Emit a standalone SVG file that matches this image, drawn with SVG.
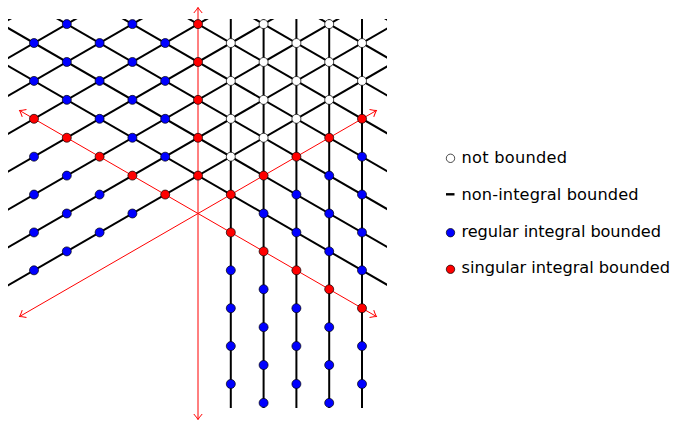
<svg xmlns="http://www.w3.org/2000/svg" width="674" height="421" viewBox="0 0 674 421">
<style>
.lat line{stroke:#000;stroke-width:2;stroke-linecap:butt}
.ax line{stroke:#f00;stroke-width:1;marker-end:url(#ah)}
circle{stroke:#000;stroke-width:0.7}
.w{fill:#fff}.b{fill:#00f}.r{fill:#f00}
.nd circle{r:4.5}
.lg circle{r:4.2}
text{font-family:"DejaVu Sans","Liberation Sans",sans-serif;font-size:16.2px;fill:#000}
</style>
<defs>
<clipPath id="clip"><rect x="8" y="19" width="379" height="389"/></clipPath>
<marker id="ah" viewBox="-8 -6 10 12" markerWidth="10" markerHeight="12" refX="0" refY="0" orient="auto" markerUnits="userSpaceOnUse"><path d="M-5.5,-4.2 Q-2,-1.2 0,0 Q-2,1.2 -5.5,4.2" fill="none" stroke="#f00" stroke-width="1"/></marker>
</defs>
<rect width="674" height="421" fill="#fff"/>
<g id="connectors">
<g class="lat" clip-path="url(#clip)">
<line x1="230.8" y1="0" x2="230.8" y2="421"/>
<line x1="263.6" y1="0" x2="263.6" y2="421"/>
<line x1="296.4" y1="0" x2="296.4" y2="421"/>
<line x1="329.2" y1="0" x2="329.2" y2="421"/>
<line x1="362" y1="0" x2="362" y2="421"/>
<line x1="-31.6" y1="308.2" x2="427.6" y2="43.04"/>
<line x1="-31.6" y1="270.32" x2="427.6" y2="5.16"/>
<line x1="-31.6" y1="232.44" x2="427.6" y2="-32.72"/>
<line x1="-31.6" y1="194.56" x2="427.6" y2="-70.6"/>
<line x1="-31.6" y1="156.68" x2="427.6" y2="-108.48"/>
<line x1="-31.6" y1="118.8" x2="427.6" y2="-146.36"/>
<line x1="-31.6" y1="80.92" x2="427.6" y2="-184.24"/>
<line x1="-31.6" y1="43.04" x2="427.6" y2="-222.12"/>
<line x1="-31.6" y1="43.04" x2="427.6" y2="308.2"/>
<line x1="-31.6" y1="5.16" x2="427.6" y2="270.32"/>
<line x1="-31.6" y1="-32.72" x2="427.6" y2="232.44"/>
<line x1="-31.6" y1="-70.6" x2="427.6" y2="194.56"/>
<line x1="-31.6" y1="-108.48" x2="427.6" y2="156.68"/>
<line x1="-31.6" y1="-146.36" x2="427.6" y2="118.8"/>
<line x1="-31.6" y1="-184.24" x2="427.6" y2="80.92"/>
<line x1="-31.6" y1="-222.12" x2="427.6" y2="43.04"/>
</g>
<g class="ax">
<line x1="198" y1="213.5" x2="198" y2="7.5"/>
<line x1="198" y1="213.5" x2="198" y2="419.5"/>
<line x1="198" y1="213.5" x2="376.4" y2="110.5"/>
<line x1="198" y1="213.5" x2="376.4" y2="316.5"/>
<line x1="198" y1="213.5" x2="19.6" y2="110.5"/>
<line x1="198" y1="213.5" x2="19.6" y2="316.5"/>
</g>
</g>
<g class="nd">
<g id="n-5m9"><circle class="b" cx="34" cy="43.04"/></g>
<g id="n-5m7"><circle class="b" cx="34" cy="80.92"/></g>
<g id="n-5m5"><circle class="r" cx="34" cy="118.8"/></g>
<g id="n-5m3"><circle class="b" cx="34" cy="156.68"/></g>
<g id="n-5m1"><circle class="b" cx="34" cy="194.56"/></g>
<g id="n-5p1"><circle class="b" cx="34" cy="232.44"/></g>
<g id="n-5p3"><circle class="b" cx="34" cy="270.32"/></g>
<g id="n-4m10"><circle class="b" cx="66.8" cy="24.1"/></g>
<g id="n-4m8"><circle class="b" cx="66.8" cy="61.98"/></g>
<g id="n-4m6"><circle class="b" cx="66.8" cy="99.86"/></g>
<g id="n-4m4"><circle class="r" cx="66.8" cy="137.74"/></g>
<g id="n-4m2"><circle class="b" cx="66.8" cy="175.62"/></g>
<g id="n-4p0"><circle class="b" cx="66.8" cy="213.5"/></g>
<g id="n-4p2"><circle class="b" cx="66.8" cy="251.38"/></g>
<g id="n-3m9"><circle class="b" cx="99.6" cy="43.04"/></g>
<g id="n-3m7"><circle class="b" cx="99.6" cy="80.92"/></g>
<g id="n-3m5"><circle class="b" cx="99.6" cy="118.8"/></g>
<g id="n-3m3"><circle class="r" cx="99.6" cy="156.68"/></g>
<g id="n-3m1"><circle class="b" cx="99.6" cy="194.56"/></g>
<g id="n-3p1"><circle class="b" cx="99.6" cy="232.44"/></g>
<g id="n-2m10"><circle class="b" cx="132.4" cy="24.1"/></g>
<g id="n-2m8"><circle class="b" cx="132.4" cy="61.98"/></g>
<g id="n-2m6"><circle class="b" cx="132.4" cy="99.86"/></g>
<g id="n-2m4"><circle class="b" cx="132.4" cy="137.74"/></g>
<g id="n-2m2"><circle class="r" cx="132.4" cy="175.62"/></g>
<g id="n-2p0"><circle class="b" cx="132.4" cy="213.5"/></g>
<g id="n-1m9"><circle class="b" cx="165.2" cy="43.04"/></g>
<g id="n-1m7"><circle class="b" cx="165.2" cy="80.92"/></g>
<g id="n-1m5"><circle class="b" cx="165.2" cy="118.8"/></g>
<g id="n-1m3"><circle class="b" cx="165.2" cy="156.68"/></g>
<g id="n-1m1"><circle class="r" cx="165.2" cy="194.56"/></g>
<g id="n0m10"><circle class="r" cx="198" cy="24.1"/></g>
<g id="n0m8"><circle class="r" cx="198" cy="61.98"/></g>
<g id="n0m6"><circle class="r" cx="198" cy="99.86"/></g>
<g id="n0m4"><circle class="r" cx="198" cy="137.74"/></g>
<g id="n0m2"><circle class="r" cx="198" cy="175.62"/></g>
<g id="n1m9"><circle class="w" cx="230.8" cy="43.04"/></g>
<g id="n1m7"><circle class="w" cx="230.8" cy="80.92"/></g>
<g id="n1m5"><circle class="w" cx="230.8" cy="118.8"/></g>
<g id="n1m3"><circle class="w" cx="230.8" cy="156.68"/></g>
<g id="n1m1"><circle class="r" cx="230.8" cy="194.56"/></g>
<g id="n1p1"><circle class="r" cx="230.8" cy="232.44"/></g>
<g id="n1p3"><circle class="b" cx="230.8" cy="270.32"/></g>
<g id="n1p5"><circle class="b" cx="230.8" cy="308.2"/></g>
<g id="n1p7"><circle class="b" cx="230.8" cy="346.08"/></g>
<g id="n1p9"><circle class="b" cx="230.8" cy="383.96"/></g>
<g id="n2m10"><circle class="w" cx="263.6" cy="24.1"/></g>
<g id="n2m8"><circle class="w" cx="263.6" cy="61.98"/></g>
<g id="n2m6"><circle class="w" cx="263.6" cy="99.86"/></g>
<g id="n2m4"><circle class="w" cx="263.6" cy="137.74"/></g>
<g id="n2m2"><circle class="r" cx="263.6" cy="175.62"/></g>
<g id="n2p0"><circle class="b" cx="263.6" cy="213.5"/></g>
<g id="n2p2"><circle class="r" cx="263.6" cy="251.38"/></g>
<g id="n2p4"><circle class="b" cx="263.6" cy="289.26"/></g>
<g id="n2p6"><circle class="b" cx="263.6" cy="327.14"/></g>
<g id="n2p8"><circle class="b" cx="263.6" cy="365.02"/></g>
<g id="n2p10"><circle class="b" cx="263.6" cy="402.9"/></g>
<g id="n3m9"><circle class="w" cx="296.4" cy="43.04"/></g>
<g id="n3m7"><circle class="w" cx="296.4" cy="80.92"/></g>
<g id="n3m5"><circle class="w" cx="296.4" cy="118.8"/></g>
<g id="n3m3"><circle class="r" cx="296.4" cy="156.68"/></g>
<g id="n3m1"><circle class="b" cx="296.4" cy="194.56"/></g>
<g id="n3p1"><circle class="b" cx="296.4" cy="232.44"/></g>
<g id="n3p3"><circle class="r" cx="296.4" cy="270.32"/></g>
<g id="n3p5"><circle class="b" cx="296.4" cy="308.2"/></g>
<g id="n3p7"><circle class="b" cx="296.4" cy="346.08"/></g>
<g id="n3p9"><circle class="b" cx="296.4" cy="383.96"/></g>
<g id="n4m10"><circle class="w" cx="329.2" cy="24.1"/></g>
<g id="n4m8"><circle class="w" cx="329.2" cy="61.98"/></g>
<g id="n4m6"><circle class="w" cx="329.2" cy="99.86"/></g>
<g id="n4m4"><circle class="r" cx="329.2" cy="137.74"/></g>
<g id="n4m2"><circle class="b" cx="329.2" cy="175.62"/></g>
<g id="n4p0"><circle class="b" cx="329.2" cy="213.5"/></g>
<g id="n4p2"><circle class="b" cx="329.2" cy="251.38"/></g>
<g id="n4p4"><circle class="r" cx="329.2" cy="289.26"/></g>
<g id="n4p6"><circle class="b" cx="329.2" cy="327.14"/></g>
<g id="n4p8"><circle class="b" cx="329.2" cy="365.02"/></g>
<g id="n4p10"><circle class="b" cx="329.2" cy="402.9"/></g>
<g id="n5m9"><circle class="w" cx="362" cy="43.04"/></g>
<g id="n5m7"><circle class="w" cx="362" cy="80.92"/></g>
<g id="n5m5"><circle class="r" cx="362" cy="118.8"/></g>
<g id="n5m3"><circle class="b" cx="362" cy="156.68"/></g>
<g id="n5m1"><circle class="b" cx="362" cy="194.56"/></g>
<g id="n5p1"><circle class="b" cx="362" cy="232.44"/></g>
<g id="n5p3"><circle class="b" cx="362" cy="270.32"/></g>
<g id="n5p5"><circle class="r" cx="362" cy="308.2"/></g>
<g id="n5p7"><circle class="b" cx="362" cy="346.08"/></g>
<g id="n5p9"><circle class="b" cx="362" cy="383.96"/></g>
</g>
<g id="legend" class="lg">
<g id="lg-not"><circle class="w" cx="450.5" cy="158.3"/><text x="461.5" y="163.3" textLength="105.5">not bounded</text></g>
<g id="lg-non"><line x1="446" y1="194.3" x2="454.5" y2="194.3" stroke="#000" stroke-width="2.4"/><text x="461.5" y="200" textLength="177">non-integral bounded</text></g>
<g id="lg-reg"><circle class="b" cx="450.5" cy="232.7"/><text x="461.5" y="236.7" textLength="199.5">regular integral bounded</text></g>
<g id="lg-sing"><circle class="r" cx="450.5" cy="269.3"/><text x="461.5" y="273.3" textLength="208.5">singular integral bounded</text></g>
</g>
</svg>
